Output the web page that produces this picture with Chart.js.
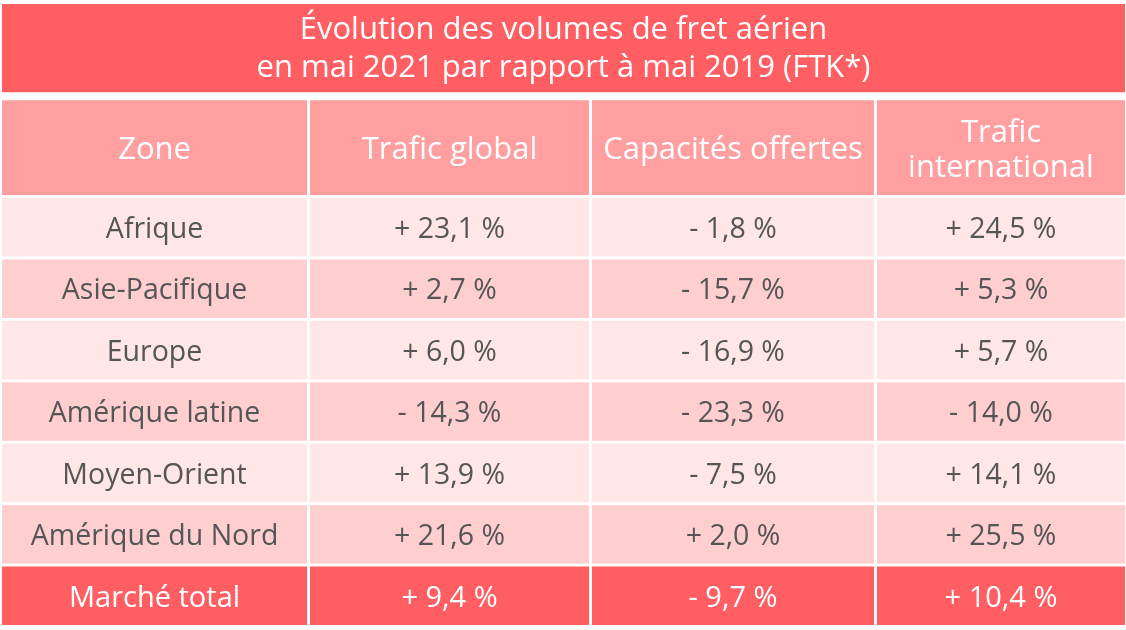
<!DOCTYPE html>
<html lang="fr">
<head>
<meta charset="utf-8">
<title>Fret aérien mai 2021</title>
<script src="https://cdn.jsdelivr.net/npm/chart.js@4.4.1/dist/chart.umd.min.js"></script>
<style>
  html, body { margin: 0; padding: 0; background: #fff; }
  #wrap { width: 1126px; height: 630px; position: relative; }
</style>
</head>
<body>
<div id="wrap"><canvas id="tableChart"></canvas></div>
<script>
// données
const zones = ['Afrique', 'Asie-Pacifique', 'Europe', 'Amérique latine', 'Moyen-Orient', 'Amérique du Nord', 'Marché total'];
const traficGlobal = [23.1, 2.7, 6.0, -14.3, 13.9, 21.6, 9.4];
const capacitesOffertes = [-1.8, -15.7, -16.9, -23.3, -7.5, 2.0, -9.7];
const traficInternational = [24.5, 5.3, 5.7, -14.0, 14.1, 25.5, 10.4];
const columnLabels = ['Zone', 'Trafic global', 'Capacités offertes', ['Trafic', 'international']];
const titleLines = ['Évolution des volumes de fret aérien', 'en mai 2021 par rapport à mai 2019 (FTK*)'];

// mise en page du tableau (unités des échelles)
const colWidths = [305, 279, 282, 248];
const headerHeight = 95;
const rowHeight = 58.6;
const gap = 2.9;

const red = '#ff5f62';
const headerColor = '#ff9fa0';
const lightRow = '#ffe7e7';
const darkRow = '#ffcfcf';
const textGray = '#555555';

const fmt = v => (v >= 0 ? '+ ' : '- ') + Math.abs(v).toFixed(1).replace('.', ',') + ' %';

const colStarts = [];
let acc = 0;
colWidths.forEach(w => { colStarts.push(acc); acc += w + gap; });
const totalW = acc - gap;

const rowStarts = [0];
const rowHeights = [headerHeight];
let yAcc = headerHeight + gap;
zones.forEach(() => { rowStarts.push(yAcc); rowHeights.push(rowHeight); yAcc += rowHeight + gap; });
const totalH = yAcc - gap;

const tablePlugin = {
    id: 'tableCells',
    beforeDraw(chart) {
        const ctx = chart.ctx;
        const xs = chart.scales.x;
        const ys = chart.scales.y;
        const area = chart.chartArea;
        const tb = chart.titleBlock;

        ctx.save();
        // bandeau du titre
        ctx.fillStyle = red;
        ctx.fillRect(area.left, tb.top, area.right - area.left, tb.height - 8);

        const columns = [zones, traficGlobal.map(fmt), capacitesOffertes.map(fmt), traficInternational.map(fmt)];

        ctx.textAlign = 'center';
        ctx.textBaseline = 'middle';
        rowStarts.forEach((r0, r) => {
            const y0 = ys.getPixelForValue(r0);
            const y1 = ys.getPixelForValue(r0 + rowHeights[r]);
            let fill, color, size;
            if (r === 0) { fill = headerColor; color = '#fff'; size = 31; }
            else if (r === zones.length) { fill = red; color = '#fff'; size = 29; }
            else { fill = r % 2 === 1 ? lightRow : darkRow; color = textGray; size = 28.5; }

            colStarts.forEach((c0, c) => {
                const x0 = xs.getPixelForValue(c0);
                const x1 = xs.getPixelForValue(c0 + colWidths[c]);
                ctx.fillStyle = fill;
                ctx.fillRect(x0, y0, x1 - x0, y1 - y0);

                const label = r === 0 ? columnLabels[c] : columns[c][r - 1];
                const lines = Array.isArray(label) ? label : [label];
                ctx.fillStyle = color;
                ctx.font = size + 'px "Open Sans"';
                const cx = (x0 + x1) / 2;
                const cy = (y0 + y1) / 2 + 2.5;
                const lh = 35;
                lines.forEach((line, i) => {
                    ctx.fillText(line, cx, cy + (i - (lines.length - 1) / 2) * lh);
                });
            });
        });
        ctx.restore();
    }
};

document.fonts.load('31px "Open Sans"').then(() => {
    new Chart(document.getElementById('tableChart'), {
        type: 'scatter',
        data: { datasets: [] },
        options: {
            responsive: true,
            maintainAspectRatio: false,
            animation: false,
            layout: { padding: { left: 2, right: 1, top: 4, bottom: 5 } },
            scales: {
                x: { type: 'linear', min: 0, max: totalW, display: false },
                y: { type: 'linear', min: 0, max: totalH, reverse: true, display: false }
            },
            plugins: {
                legend: { display: false },
                tooltip: { enabled: false },
                title: {
                    display: true,
                    text: titleLines,
                    color: '#ffffff',
                    font: { family: 'Open Sans', size: 31, weight: 'normal', lineHeight: 1.23 },
                    padding: { top: 7, bottom: 13 }
                }
            }
        },
        plugins: [tablePlugin]
    });
});
</script>
</body>
</html>
